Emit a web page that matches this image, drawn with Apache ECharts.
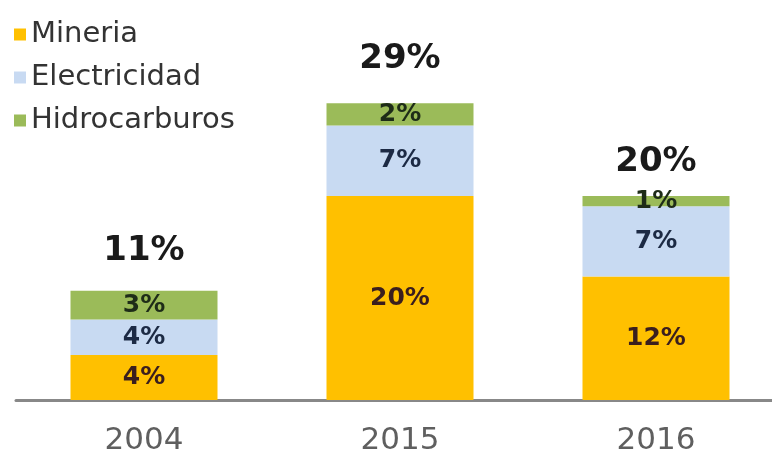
<!DOCTYPE html>
<html>
<head>
<meta charset="utf-8">
<script src="https://cdn.jsdelivr.net/npm/echarts@6/dist/echarts.min.js"></script>
<style>html,body{margin:0;padding:0;background:#fff;overflow:hidden}#c{width:784px;height:457px}</style>
</head>
<body>
<div id="c"></div>
<script>
const categories = ['2004', '2015', '2016'];
const seriesNames = ['Mineria', 'Electricidad', 'Hidrocarburos'];
const mineria = [4.4, 20, 12.1];
const electricidad = [3.5, 6.9, 6.9];
const hidrocarburos = [2.8, 2.2, 1.0];

const colors = ['#FFC000', '#C8DAF2', '#9BBB59'];
const labelColors = ['#3a1e1e', '#1c2a44', '#1e2c18'];
const totalGap = [23, 27, 17];
const FONT = 'DejaVu Sans';

const totals = categories.map((c, i) => mineria[i] + electricidad[i] + hidrocarburos[i]);
const values = [mineria, electricidad, hidrocarburos];

const chart = echarts.init(document.getElementById('c'), null, {renderer: 'canvas'});
const barSeries = values.map((arr, k) => ({
  name: seriesNames[k],
  type: 'bar',
  stack: 'all',
  barWidth: 147,
  data: arr,
  itemStyle: {color: colors[k]},
  label: {
    show: true,
    position: 'inside',
    formatter: p => Math.round(p.value) + '%',
    fontFamily: FONT,
    fontWeight: 'bold',
    fontSize: 25,
    color: labelColors[k]
  }
}));

chart.setOption({
  animation: false,
  backgroundColor: '#fff',
  legend: {
    data: seriesNames,
    orient: 'vertical',
    left: 9,
    top: 15,
    itemGap: 14,
    itemWidth: 12,
    itemHeight: 12,
    icon: 'rect',
    textStyle: {fontFamily: FONT, fontSize: 29, color: '#333'}
  },
  grid: {left: 16, right: 0, top: 43, bottom: 57},
  xAxis: {
    type: 'category',
    data: categories,
    axisLine: {lineStyle: {color: '#888', width: 3}},
    axisTick: {show: false},
    axisLabel: {fontFamily: FONT, fontSize: 31, color: '#5f5f5f', margin: 25}
  },
  yAxis: {type: 'value', min: 0, max: 35, show: false, splitLine: {show: false}},
  series: barSeries.concat([{
    name: 'Total',
    type: 'scatter',
    symbolSize: 0,
    itemStyle: {opacity: 1},
    data: totals.map((t, i) => ({
      value: t,
      label: {distance: totalGap[i]}
    })),
    label: {
      show: true,
      position: 'top',
      formatter: p => Math.round(p.value) + '%',
      fontFamily: FONT,
      fontWeight: 'bold',
      fontSize: 34,
      color: '#1a1a1a',
      opacity: 1
    },
    z: 5
  }])
});
</script>
</body>
</html>
